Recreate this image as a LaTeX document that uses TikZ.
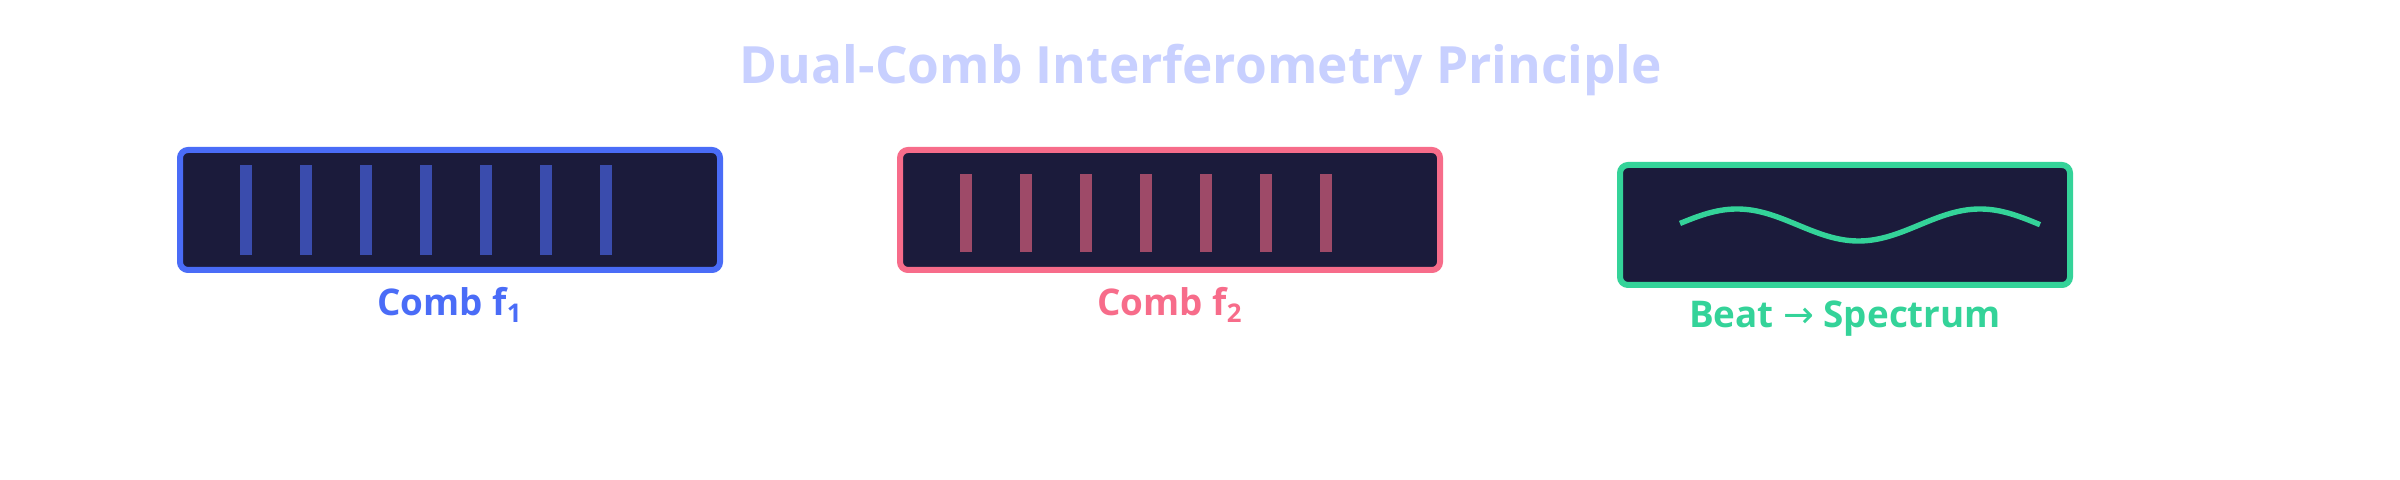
\documentclass[tikz,border=0pt]{standalone}
\usepackage{fontspec}
\setmainfont{Open Sans}
\newfontfamily\symfont{DejaVu Sans}
\definecolor{boxfill}{RGB}{27,27,59}
\definecolor{cblue}{RGB}{74,108,247}
\definecolor{cpink}{RGB}{247,108,138}
\definecolor{cgreen}{RGB}{52,211,153}
\definecolor{barblue}{RGB}{58,76,173}
\definecolor{barpink}{RGB}{158,74,104}
\definecolor{ctitle}{RGB}{200,208,255}
\tikzset{
  panel/.style={draw=#1, line width=3pt, fill=boxfill, rounded corners=4pt, inner sep=0pt, minimum height=60pt},
  caption/.style={text=#1, anchor=base, font=\bfseries\fontsize{18.4}{20}\selectfont, inner sep=0pt},
  tooth/.style={fill=#1, draw=none}
}
\begin{document}
\begin{tikzpicture}[x=0.5pt, y=-0.5pt]
\useasboundingbox (0,0) rectangle (2400,480);
\node[text=ctitle, anchor=base, font=\bfseries\fontsize{25.7}{28}\selectfont, inner sep=0pt] (title) at (1201,84) {Dual-Comb Interferometry Principle};
% boxes
\node[panel=cblue, minimum width=270pt] (b1) at (450,210) {};
\node[panel=cpink, minimum width=270pt] (b2) at (1170,210) {};
\node[panel=cgreen, minimum width=225pt] (b3) at (1845,225) {};
% comb teeth
\foreach \k in {0,...,6} {
  \fill[tooth=barblue] (240+60*\k,165) rectangle (252+60*\k,255);
  \fill[tooth=barpink] (960+60*\k,174) rectangle (972+60*\k,252);
}
% beat wave
\draw[cgreen, line width=2.7pt, line cap=butt] plot[domain=-57:303, samples=80, smooth] ({1737+\x}, {225-16*cos(\x/243*360)});
% captions
\node[caption=cblue] (l1) at (450,316) {Comb f\textsubscript{1}};
\node[caption=cpink] (l2) at (1170,316) {Comb f\textsubscript{2}};
\node[caption=cgreen] (l3) at (1845,328) {Beat {\symfont\mdseries →} Spectrum};
\end{tikzpicture}
\end{document}
